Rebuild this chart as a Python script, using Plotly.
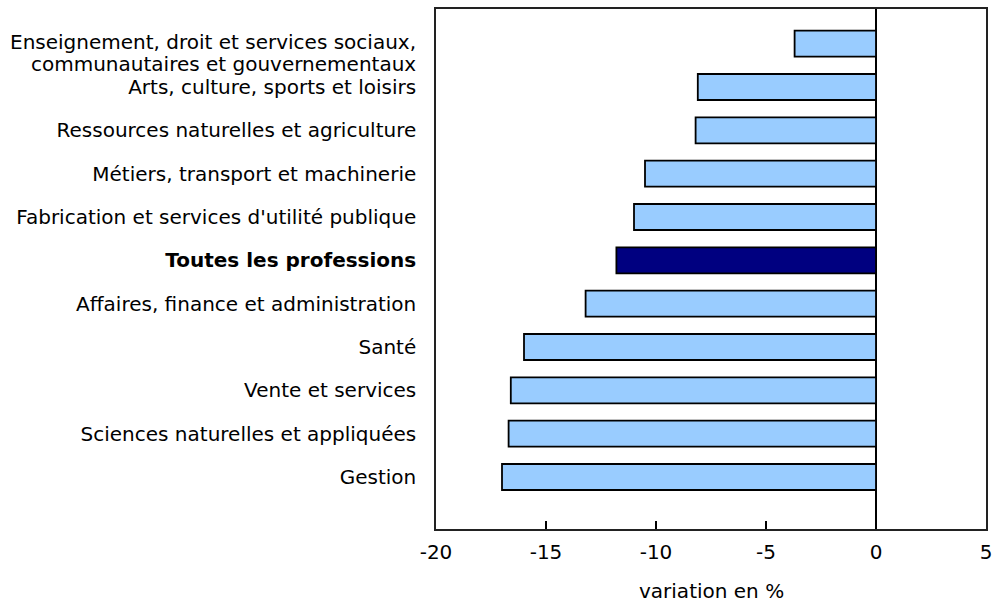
import plotly.graph_objects as go

categories = [
    "Gestion",
    "Sciences naturelles et appliquées",
    "Vente et services",
    "Santé",
    "Affaires, finance et administration",
    "Toutes les professions",
    "Fabrication et services d'utilité publique",
    "Métiers, transport et machinerie",
    "Ressources naturelles et agriculture",
    "Arts, culture, sports et loisirs",
    "Enseignement, droit et services sociaux,<br>communautaires et gouvernementaux",
]
values = [-17.0, -16.7, -16.6, -16.0, -13.2, -11.8, -11.0, -10.5, -8.2, -8.1, -3.7]
highlight = "Toutes les professions"
x_ticks = [-20, -15, -10, -5, 0, 5]
x_ticklabels = ["-20", "-15", "-10", "-5", "0", "5"]
x_title = "variation en %"

colors = ["#000080" if c == highlight else "#99CCFF" for c in categories]
ypos = list(range(len(categories)))
# multi-line labels are drawn as separate annotation lines (tighter spacing)
ticktext = []
for c in categories:
    if "<br>" in c:
        ticktext.append("")
    elif c == highlight:
        ticktext.append("<b>%s</b>" % c)
    else:
        ticktext.append(c)

W, H = 992, 602
fig = go.Figure()
fig.add_trace(go.Bar(
    x=values, y=ypos, orientation="h",
    marker=dict(color=colors, line=dict(color="#000000", width=1.8)),
    width=0.6, hoverinfo="x+y",
))

font = dict(family="DejaVu Sans, Verdana, sans-serif", size=20, color="#000000")
fig.update_layout(
    width=W, height=H,
    margin=dict(l=436, r=W - 986, t=9, b=H - 529),
    paper_bgcolor="white", plot_bgcolor="white",
    font=font, showlegend=False, bargap=0.4,
)
fig.update_xaxes(
    range=[-20, 5], tickvals=x_ticks, ticktext=x_ticklabels,
    ticks="inside", ticklen=8, tickcolor="#000000", tickwidth=1.5,
    showgrid=False, zeroline=True, zerolinecolor="#000000", zerolinewidth=1.5,
    showline=True, linecolor="#222222", linewidth=1.5, mirror=True,
    automargin=False, tickfont=font, ticklabelstandoff=4,
    ticklabeloverflow="allow",
)
fig.update_yaxes(
    range=[-1.2, 10.8], tickvals=ypos, ticktext=ticktext,
    showgrid=False, zeroline=False, ticks="",
    showline=True, linecolor="#222222", linewidth=1.5, mirror=True,
    ticklabelstandoff=14, automargin=False, tickfont=font,
)
for yi, c in zip(ypos, categories):
    if "<br>" in c:
        lines = c.split("<br>")
        for k, line in enumerate(lines):
            fig.add_annotation(
                text=line, xref="paper", yref="y", x=0, y=yi,
                xanchor="right", yanchor="middle", xshift=-18,
                yshift=2 - 22 * k, showarrow=False, font=font,
            )
fig.add_annotation(
    text=x_title, xref="paper", yref="paper",
    x=0.5, y=-(591 - 529) / 520, xanchor="center", yanchor="middle",
    showarrow=False, font=font,
)
fig.write_html(
    "out.html",
    config={"displayModeBar": False},
    post_script="document.body.style.margin='0px';"
                "document.documentElement.style.overflow='hidden';",
)
